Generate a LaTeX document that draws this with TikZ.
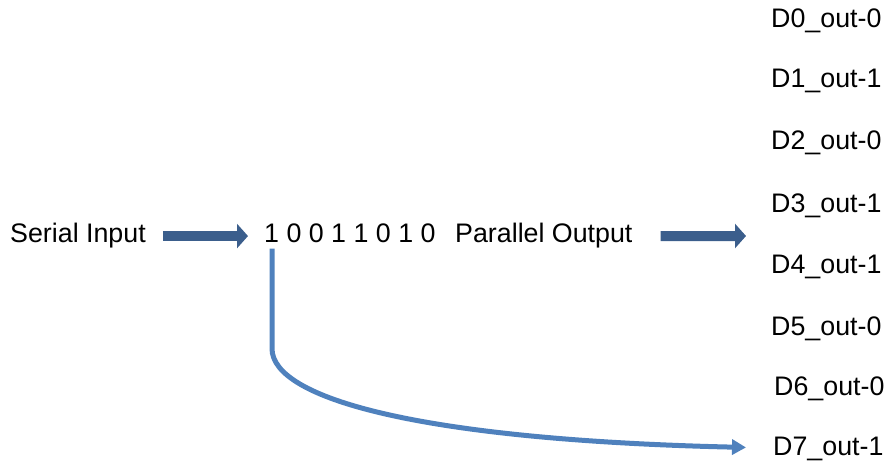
\documentclass[tikz,border=0pt]{standalone}
\usepackage{fontspec}
\setmainfont{Liberation Sans}
\usepackage{xcolor}
\usetikzlibrary{arrows.meta,positioning}

\definecolor{arrowblue}{RGB}{59,94,140}
\definecolor{curveblue}{RGB}{79,129,189}

\begin{document}
\begin{tikzpicture}[
  x=1pt, y=-1pt,
  every node/.style = {inner sep=0pt, anchor=base west,
      font=\fontsize{26.8}{32}\selectfont, text height=19.3pt, text depth=5.4pt},
  blockarrow/.style = {draw=arrowblue, line width=10pt,
      -{Triangle[length=11pt,width=24pt]}},
  bitline/.style = {draw=curveblue, line width=5pt,
      -{Triangle[length=14pt,width=15pt]}}
]
\useasboundingbox (0,0) rectangle (886,465);

  % Nodes
  \node (serial) at (10,243) {Serial Input};
  \node (bits) at (264,243) {1 0 0 1 1 0 1 0};
  \node (parallel) at (455,243) {Parallel Output};

  % outputs
  \node (d0) at (771,28) {D0\_out-0};
  \node (d1) at (771,88) {D1\_out-1};
  \node (d2) at (771,150) {D2\_out-0};
  \node (d3) at (771,212) {D3\_out-1};
  \node (d4) at (771,273) {D4\_out-1};
  \node (d5) at (771,335) {D5\_out-0};
  \node (d6) at (774,395) {D6\_out-0};
  \node (d7) at (773,455) {D7\_out-1};

  \coordinate (out) at (746,236);
  \coordinate (tap) at ([xshift=8pt]bits.south west);

  % Arrows
  \draw[blockarrow, shorten <=17pt, shorten >=16pt] (serial.east) -- (bits.west);
  \draw[blockarrow, shorten <=28pt] (parallel.east) -- (out);
  \draw[bitline, shorten >=27pt] (tap) -- ++(0,100)
      .. controls +(0,50) and (420,440) .. (d7.west);

\end{tikzpicture}
\end{document}
